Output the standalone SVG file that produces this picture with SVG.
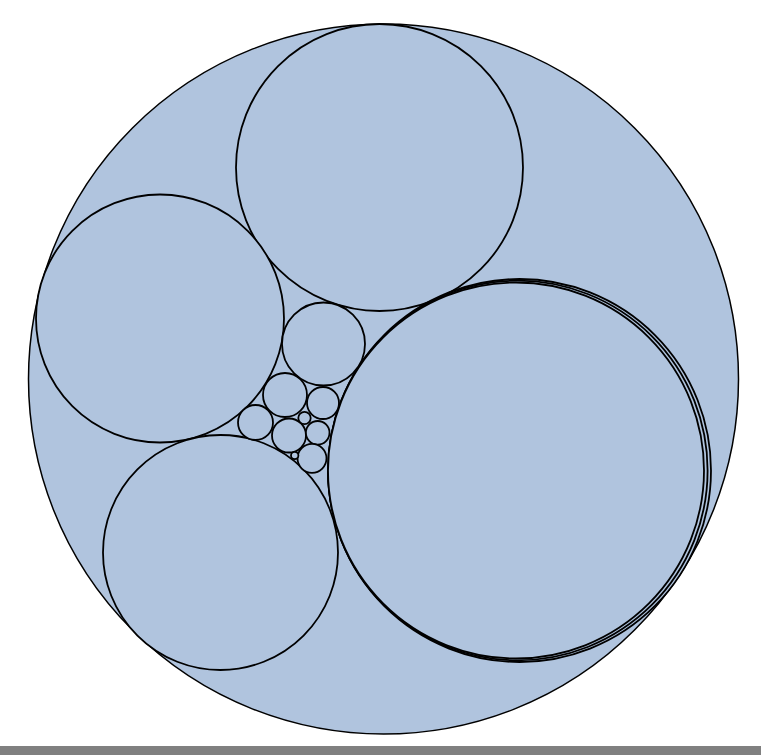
<svg xmlns="http://www.w3.org/2000/svg" width="761" height="755" viewBox="0 0 761 755">
<style>
.c{fill:#b0c4de;stroke:#000;stroke-width:1.8}
.o{fill:#b0c4de;stroke:#000;stroke-width:1.5}
</style>
<rect x="0" y="0" width="761" height="755" fill="#fff"/>
<rect x="0" y="746" width="761" height="9" fill="#808080"/>
<g id="outer"><circle class="o" cx="383.5" cy="379" r="355"/></g>
<g id="top"><circle class="c" cx="379.5" cy="167.5" r="143.5"/></g>
<g id="left"><circle class="c" cx="160" cy="318.5" r="124"/></g>
<g id="bottomleft"><circle class="c" cx="220.5" cy="552.5" r="117.5"/></g>
<g id="big3"><circle class="c" cx="519.5" cy="470.5" r="191.5"/></g>
<g id="big2"><circle class="c" cx="517.8" cy="470.5" r="189.8"/></g>
<g id="big1"><circle class="c" cx="516" cy="470.5" r="188"/></g>
<g id="m1"><circle class="c" cx="323.5" cy="344" r="41.5"/></g>
<g id="m2"><circle class="c" cx="285" cy="395" r="22"/></g>
<g id="m3"><circle class="c" cx="323" cy="403" r="16"/></g>
<g id="m4"><circle class="c" cx="255.5" cy="422.5" r="17.5"/></g>
<g id="m5"><circle class="c" cx="289" cy="435.5" r="17"/></g>
<g id="m6"><circle class="c" cx="304.5" cy="418" r="6.2"/></g>
<g id="m7"><circle class="c" cx="317.7" cy="432.8" r="11.8"/></g>
<g id="m8"><circle class="c" cx="312" cy="458.3" r="14.5"/></g>
<g id="m9"><circle class="c" cx="294.7" cy="455.5" r="3.7"/></g>
<g id="connectors"></g>
</svg>
